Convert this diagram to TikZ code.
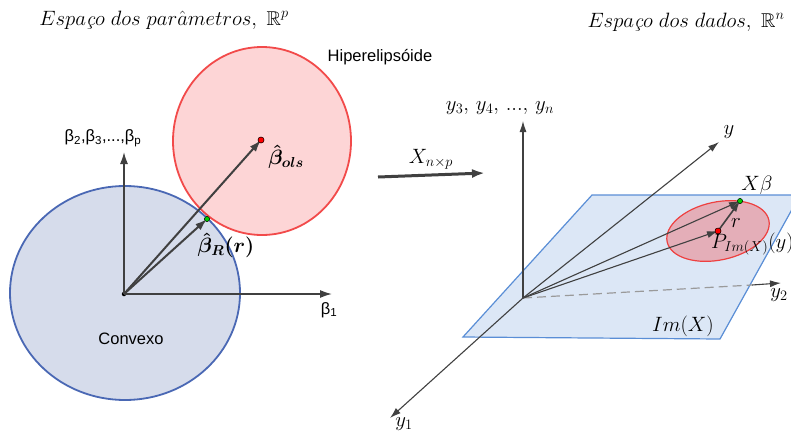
\documentclass[tikz,border=0pt]{standalone}
\usepackage{amsmath,amssymb}
\usepackage{fontspec}
\newfontfamily\arial{Liberation Sans}
\usetikzlibrary{arrows.meta}
\definecolor{arrowgray}{HTML}{404040}
\definecolor{convfill}{HTML}{D6DCEB}
\definecolor{convline}{HTML}{4A68B4}
\definecolor{ellfill}{HTML}{FDD5D6}
\definecolor{ellline}{HTML}{F24A4A}
\definecolor{planefill}{HTML}{DCE7F6}
\definecolor{planeline}{HTML}{5A8ED6}
\definecolor{smallellfill}{HTML}{E4AEB8}
\definecolor{smallellline}{HTML}{EE4040}
\definecolor{dashgray}{HTML}{9A9A9A}
\tikzset{
  bigvec/.style={draw=arrowgray, line width=2pt, -{Latex[length=12pt,width=8pt]}},
  axisvec/.style={draw=arrowgray, line width=1.5pt, -{Latex[length=12pt,width=8pt]}},
  thinvec/.style={draw=arrowgray, line width=1.1pt, -{Latex[length=11pt,width=7pt]}},
  mapvec/.style={draw=arrowgray, line width=3pt, -{Latex[length=13pt,width=9pt]}},
  sanslabel/.style={font=\arial\fontsize{16.5}{19}\selectfont, inner sep=0pt},
  mathlabel/.style={font=\fontsize{20}{23}\selectfont, inner sep=0pt},
  titlelabel/.style={font=\fontsize{20}{23}\selectfont, inner sep=0pt},
  dotred/.style={circle, fill=red, draw=black, line width=0.4pt, inner sep=0pt, minimum size=6pt},
  dotgreen/.style={circle, fill=green!80!black, draw=black, line width=0.4pt, inner sep=0pt, minimum size=5pt},
  dotblack/.style={circle, fill=black, inner sep=0pt, minimum size=4.5pt},
}
\begin{document}
\begin{tikzpicture}[x=1pt,y=-1pt]
\useasboundingbox (0,0) rectangle (791,434);
\clip (0,0) rectangle (791,434);
% ---------- titles ----------
\node[titlelabel] (tleft) at (164,20) {$Espa\text{\itshape ç}o\ dos\ par\hat{a}metros,\ \mathbb{R}^p$};
\node[titlelabel] (tright) at (686,22) {$Espa\text{\itshape ç}o\ dos\ dados,\ \mathbb{R}^n$};
% ---------- left panel ----------
\draw[draw=convline, fill=convfill, line width=1.8pt] (125,293) ellipse (115 and 107);
\draw[draw=ellline, fill=ellfill, line width=1.8pt] (262,141) ellipse (89 and 94);
\node[dotblack] (O) at (124,294) {};
\coordinate (b2tip) at (124,152);
\coordinate (b1tip) at (332,294);
\draw[axisvec] (O.center) -- (b2tip);
\draw[axisvec] (O.center) -- (b1tip);
\node[dotred] (ols) at (261,140) {};
\node[dotgreen] (ridge) at (207,219) {};
\draw[bigvec] (O.center) -- (ols.center);
\draw[bigvec] (O.center) -- (ridge.center);
\node[dotred] at (ols) {};
\node[dotgreen] at (ridge) {};
\node[sanslabel] (lb2) at (103,138) {β\textsubscript{2},β\textsubscript{3},...,β\textsubscript{p}};
\node[sanslabel] (lb1) at (329,310) {β\textsubscript{1}};
\node[sanslabel] (lhip) at (380,57) {Hiperelipsóide};
\node[sanslabel] (lconv) at (131,339) {Convexo};
\node[mathlabel] (lols) at (286,157) {$\boldsymbol{\hat{\beta}_{ols}}$};
\node[mathlabel] (lridge) at (226,245) {$\boldsymbol{\hat{\beta}_{R}(r)}$};
% ---------- map arrow ----------
\coordinate (m1) at (378,177);
\coordinate (m2) at (485,173);
\draw[mapvec] (m1) -- (m2);
\node[mathlabel] (lmap) at (431,159) {$X_{n\times p}$};
% ---------- right panel ----------
\draw[draw=planeline, fill=planefill, line width=1.2pt] (463,337) -- (592,195) -- (800,195) -- (720,339) -- cycle;
\draw[draw=smallellline, fill=smallellfill, line width=1.2pt, shift={(718,231)}, rotate=12] (0,0) ellipse (52 and 29);
\coordinate (O2) at (523,298);
\coordinate (y3tip) at (523,121);
\coordinate (ytip) at (719,142);
\coordinate (y1tip) at (390,418);
\coordinate (y2mid) at (752,285);
\coordinate (y2tip) at (781,283);
\draw[thinvec] (O2) -- (y3tip);
\draw[thinvec] (O2) -- (ytip);
\draw[thinvec] (O2) -- (y1tip);
\draw[dashgray, line width=1.2pt, dash pattern=on 9pt off 5pt] (O2) -- (y2mid);
\draw[thinvec] (y2mid) -- (y2tip);
\node[dotgreen] (xb) at (740,201) {};
\node[dotred] (proj) at (718,231) {};
\draw[thinvec] (O2) -- (xb.center);
\draw[thinvec] (O2) -- (proj.center);
\draw[thinvec, line width=1.6pt] (proj.center) -- (xb.center);
\node[dotgreen] at (xb) {};
\node[dotred] at (proj) {};
\node[mathlabel] (ly3) at (500,108) {$y_3,\,y_4,\,...,\,y_n$};
\node[mathlabel] (ly) at (729,132) {$y$};
\node[mathlabel] (ly1) at (404,424) {$y_1$};
\node[mathlabel] (ly2) at (779,295) {$y_2$};
\node[mathlabel] (lxb) at (757,185) {$X\beta$};
\node[mathlabel] (lr) at (736,223) {$r$};
\node[mathlabel, anchor=west] (lp) at (711,244) {$P_{Im(X)}(y)$};
\node[mathlabel] (lim) at (683,326) {$Im(X)$};
\end{tikzpicture}
\end{document}
